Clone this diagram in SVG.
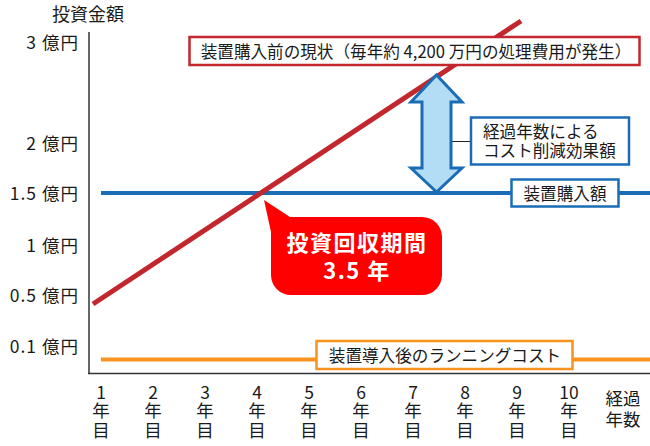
<svg xmlns="http://www.w3.org/2000/svg" width="650" height="446" viewBox="0 0 650 446">
<style>
text{font-family:"Noto Sans CJK JP","Noto Sans",sans-serif;fill:#1a1a1a;}
.ax{font-size:17.5px;text-anchor:end;letter-spacing:1px;}
.xl{font-size:17.5px;text-anchor:middle;}
.lb{font-size:16.6px;}
.mid{text-anchor:middle;}
.box{fill:#fff;stroke-width:2.5;}
</style>
<rect width="650" height="446" fill="#fff"/>
<g id="axes">
<line x1="89" y1="32" x2="89" y2="374" stroke="#333" stroke-width="1.5"/>
<line x1="88" y1="373.5" x2="650" y2="373.5" stroke="#333" stroke-width="1.5"/>
<text x="88" y="21" style="font-size:18px" text-anchor="middle">投資金額</text>
<text class="ax" x="79" y="48.5">3 億円</text>
<text class="ax" x="79" y="150">2 億円</text>
<text class="ax" x="79" y="200">1.5 億円</text>
<text class="ax" x="79" y="251.5">1 億円</text>
<text class="ax" x="79" y="301.5">0.5 億円</text>
<text class="ax" x="79" y="353">0.1 億円</text>
<text class="xl" y="399"><tspan x="101">1</tspan><tspan x="101" dy="17.5">年</tspan><tspan x="101" dy="20">目</tspan></text>
<text class="xl" y="399"><tspan x="153">2</tspan><tspan x="153" dy="17.5">年</tspan><tspan x="153" dy="20">目</tspan></text>
<text class="xl" y="399"><tspan x="205">3</tspan><tspan x="205" dy="17.5">年</tspan><tspan x="205" dy="20">目</tspan></text>
<text class="xl" y="399"><tspan x="257">4</tspan><tspan x="257" dy="17.5">年</tspan><tspan x="257" dy="20">目</tspan></text>
<text class="xl" y="399"><tspan x="309">5</tspan><tspan x="309" dy="17.5">年</tspan><tspan x="309" dy="20">目</tspan></text>
<text class="xl" y="399"><tspan x="361">6</tspan><tspan x="361" dy="17.5">年</tspan><tspan x="361" dy="20">目</tspan></text>
<text class="xl" y="399"><tspan x="413">7</tspan><tspan x="413" dy="17.5">年</tspan><tspan x="413" dy="20">目</tspan></text>
<text class="xl" y="399"><tspan x="465">8</tspan><tspan x="465" dy="17.5">年</tspan><tspan x="465" dy="20">目</tspan></text>
<text class="xl" y="399"><tspan x="517">9</tspan><tspan x="517" dy="17.5">年</tspan><tspan x="517" dy="20">目</tspan></text>
<text class="xl" y="399"><tspan x="569">10</tspan><tspan x="569" dy="17.5">年</tspan><tspan x="569" dy="20">目</tspan></text>
<text class="xl" y="405"><tspan x="623">経過</tspan><tspan x="623" dy="21">年数</tspan></text>
</g>
<g id="connectors">
<line id="blue-line" x1="101" y1="193" x2="650" y2="193" stroke="#1a6db5" stroke-width="4"/>
<line id="orange-line" x1="101" y1="359.5" x2="650" y2="359.5" stroke="#f7931e" stroke-width="4"/>
<line id="red-line" x1="93" y1="304" x2="521" y2="21" stroke="#c1272d" stroke-width="5"/>
<line x1="451" y1="141.5" x2="471" y2="141.5" stroke="#222" stroke-width="1"/>
</g>
<g id="arrow">
<polygon points="436.5,75 462,102 451,102 451,168 462,168 436.5,192 411,168 422,168 422,102 411,102" fill="#b3dcf5" stroke="#1a6db5" stroke-width="3" stroke-linejoin="miter"/>
</g>
<g id="node-current">
<rect class="box" x="189.5" y="37" width="450" height="28" stroke="#c1272d"/>
<text class="lb mid" x="416" y="58">装置購入前の現状（毎年約 4,200 万円の処理費用が発生）</text>
</g>
<g id="node-saving">
<rect class="box" x="471" y="117.5" width="158" height="47" stroke="#1a6db5"/>
<text class="lb" x="483" y="138">経過年数による</text>
<text class="lb" x="483" y="156.5">コスト削減効果額</text>
</g>
<g id="node-purchase">
<rect class="box" x="511.5" y="179.5" width="107" height="27" stroke="#1a6db5"/>
<text class="lb mid" x="565" y="199.5">装置購入額</text>
</g>
<g id="node-running">
<rect class="box" x="316.5" y="341" width="256" height="28" stroke="#f7931e"/>
<text class="lb mid" x="445" y="361.5">装置導入後のランニングコスト</text>
</g>
<g id="node-callout">
<path d="M264,200 L290,217 H422 A20,20 0 0 1 442,237 V275 A20,20 0 0 1 422,295 H291 A20,20 0 0 1 271,275 V232 Z" fill="#ff0000"/>
<text x="357" y="251" text-anchor="middle" style="font-size:22px;font-weight:bold;fill:#fff;letter-spacing:1.5px">投資回収期間</text>
<text x="357" y="279" text-anchor="middle" style="font-size:22px;font-weight:bold;fill:#fff;letter-spacing:1.5px">3.5 年</text>
</g>
</svg>
